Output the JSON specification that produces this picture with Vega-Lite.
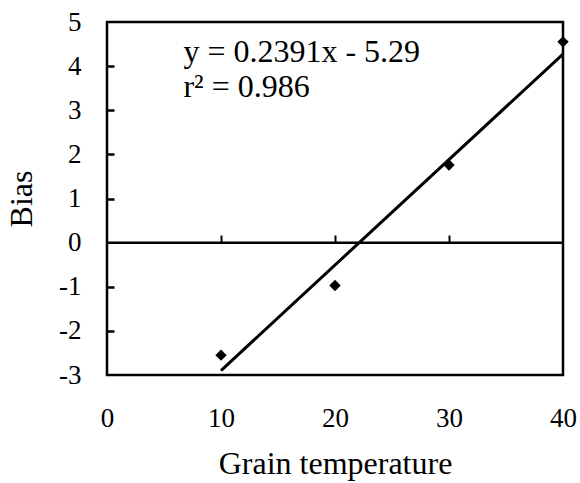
{
  "$schema": "https://vega.github.io/schema/vega-lite/v6.json",
  "autosize": "none",
  "width": 456,
  "height": 353,
  "padding": {"left": 107, "top": 22, "right": 17, "bottom": 108},
  "background": "white",
  "config": {
    "view": {"stroke": "black", "strokeWidth": 2.5},
    "font": "Liberation Serif",
    "axis": {"labelFont": "Liberation Serif", "titleFont": "Liberation Serif", "labelColor": "black", "titleColor": "black", "grid": false, "titleFontWeight": "normal"}
  },
  "datasets": {
    "points": [
      {"temp": 10, "bias": -2.55},
      {"temp": 20, "bias": -0.97},
      {"temp": 30, "bias": 1.76},
      {"temp": 40, "bias": 4.55}
    ],
    "trend": [
      {"temp": 10, "bias": -2.899},
      {"temp": 40, "bias": 4.274}
    ],
    "zero": [{"bias": 0}],
    "notes": [
      {"temp": 6.7, "bias": 4.09, "label": "y = 0.2391x - 5.29"},
      {"temp": 6.7, "bias": 3.3, "label": "r² = 0.986"}
    ]
  },
  "resolve": {"axis": {"x": "independent", "y": "independent"}},
  "layer": [
    {
      "data": {"name": "zero"},
      "mark": {"type": "rule", "color": "black", "strokeWidth": 2.5},
      "encoding": {
        "y": {"field": "bias", "type": "quantitative", "scale": {"domain": [-3, 5], "nice": false}, "axis": null}
      }
    },
    {
      "data": {"name": "trend"},
      "mark": {"type": "line", "color": "black", "strokeWidth": 3},
      "encoding": {
        "x": {"field": "temp", "type": "quantitative", "scale": {"domain": [0, 40], "nice": false},
          "axis": {"orient": "bottom", "values": [10, 20, 30], "labels": false, "domain": false, "ticks": true, "tickSize": -7, "tickWidth": 2, "tickColor": "black", "offset": -133, "title": null}},
        "y": {"field": "bias", "type": "quantitative", "scale": {"domain": [-3, 5], "nice": false},
          "axis": {"orient": "left", "values": [-2, -1, 1, 2, 3, 4], "labels": false, "domain": false, "ticks": true, "tickSize": -7, "tickWidth": 2.5, "tickColor": "black", "title": null}}
      }
    },
    {
      "data": {"name": "points"},
      "mark": {"type": "point", "shape": "diamond", "filled": true, "color": "black", "size": 130, "opacity": 1},
      "encoding": {
        "x": {"field": "temp", "type": "quantitative", "scale": {"domain": [0, 40], "nice": false},
          "axis": {"orient": "bottom", "values": [0, 10, 20, 30, 40], "ticks": false, "domain": false, "labelPadding": 30, "labelFontSize": 27, "labelFlush": false, "labelExpr": "'' + datum.value", "title": "Grain temperature", "titleFontSize": 32, "titlePadding": 17}},
        "y": {"field": "bias", "type": "quantitative", "scale": {"domain": [-3, 5], "nice": false},
          "axis": {"orient": "left", "values": [-3, -2, -1, 0, 1, 2, 3, 4, 5], "ticks": false, "domain": false, "labelPadding": 26, "labelFontSize": 27, "labelFlush": false, "labelExpr": "'' + datum.value", "title": "Bias", "titleFontSize": 32, "titlePadding": 20}}
      }
    },
    {
      "data": {"name": "notes"},
      "mark": {"type": "text", "align": "left", "baseline": "alphabetic", "fontSize": 32, "font": "Liberation Serif", "color": "black"},
      "encoding": {
        "x": {"field": "temp", "type": "quantitative", "scale": {"domain": [0, 40], "nice": false}, "axis": null},
        "y": {"field": "bias", "type": "quantitative", "scale": {"domain": [-3, 5], "nice": false}, "axis": null},
        "text": {"field": "label"}
      }
    }
  ]
}
